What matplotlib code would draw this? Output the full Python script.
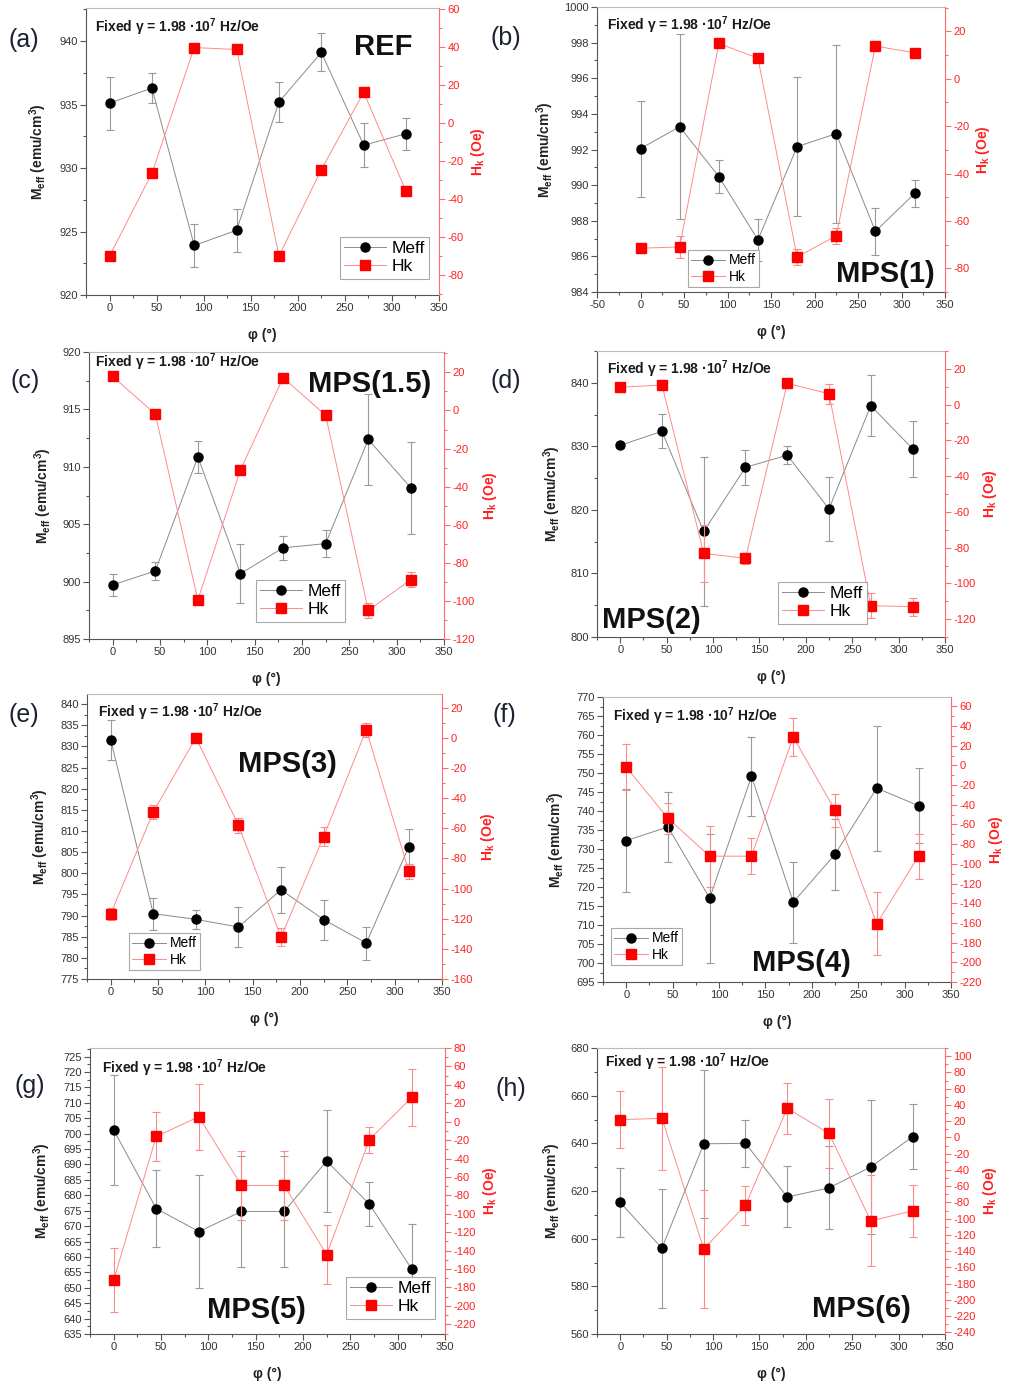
import numpy as np
import matplotlib
matplotlib.use("Agg")
import matplotlib.pyplot as plt
from matplotlib.ticker import MultipleLocator, AutoMinorLocator

plt.rcParams['font.family'] = ['Liberation Sans', 'DejaVu Sans']
plt.rcParams['mathtext.fontset'] = 'custom'
plt.rcParams['mathtext.rm'] = 'Liberation Sans:bold'
plt.rcParams['mathtext.it'] = 'Liberation Sans:italic:bold'
plt.rcParams['mathtext.bf'] = 'Liberation Sans:bold'
plt.rcParams['axes.unicode_minus'] = False

# angle phi (deg), same for every sample
phi = [0, 45, 90, 135, 180, 225, 270, 315]

# (a) REF
meff_a = [935.1, 936.3, 923.9, 925.1, 935.2, 939.1, 931.8, 932.7]
meff_err_a = [2.1, 1.2, 1.7, 1.7, 1.6, 1.5, 1.75, 1.25]
hk_a = [-70, -26.5, 39.6, 38.6, -70, -24.6, 16.1, -36]
hk_err_a = None

# (b) MPS(1)
meff_b = [992.05, 993.28, 990.48, 986.93, 992.16, 992.89, 987.4, 989.53]
meff_err_b = [2.7, 5.2, 0.95, 1.18, 3.9, 5.0, 1.3, 0.76]
hk_b = [-71.5, -71, 14.9, 8.7, -75.2, -66.3, 13.8, 11]
hk_err_b = [1.5, 4.5, 0.5, 1, 3.4, 3.5, 0.5, 1]

# (c) MPS(1.5)
meff_c = [899.71, 900.93, 910.87, 900.7, 902.94, 903.31, 912.38, 908.17]
meff_err_c = [0.96, 0.8, 1.4, 2.6, 1.05, 1.2, 4.0, 4.0]
hk_c = [17.9, -1.9, -99.5, -31.2, 17.2, -2.5, -105, -88.8]
hk_err_c = [1, 1, 1.5, 1, 1, 1, 4, 4]

# (d) MPS(2)
meff_d = [830.16, 832.36, 816.6, 826.7, 828.6, 820.16, 836.4, 829.63]
meff_err_d = [0.5, 2.7, 11.7, 2.8, 1.45, 5.05, 4.8, 4.4]
hk_d = [9.7, 11, -83.2, -86, 11.9, 6.1, -112.5, -113]
hk_err_d = [1, 1, 16, 3, 1, 5.6, 7, 5]

# (e) MPS(3)
meff_e = [831.6, 790.46, 789.1, 787.3, 796.1, 789.04, 783.5, 806.3]
meff_err_e = [4.7, 3.8, 2.2, 4.7, 5.5, 4.7, 3.9, 4.2]
hk_e = [-116.8, -49.3, 0, -57.9, -132.2, -65.5, 5.3, -88.7]
hk_err_e = [4, 4.7, 3, 5, 5.7, 6, 4.6, 5]

# (f) MPS(4)
meff_f = [732.2, 735.8, 717.05, 749.1, 716.0, 728.6, 746.0, 741.4]
meff_err_f = [13.6, 9.2, 17, 10.5, 10.7, 9.3, 16.5, 9.8]
hk_f = [-1.7, -53.7, -92.2, -92.2, 29, -45.6, -160.8, -92.2]
hk_err_f = [23, 16, 31, 18, 19, 16.5, 32, 22.8]

# (g) MPS(5)
meff_g = [701.2, 675.7, 668.25, 674.75, 674.75, 691.1, 677.2, 656.0]
meff_err_g = [18, 12.5, 18.2, 18, 18, 16.6, 7, 14.8]
hk_g = [-172, -16, 5.4, -69.2, -69.2, -144.2, -19.6, 26.4]
hk_err_g = [35, 27, 36, 37, 37, 31.5, 14, 30.6]

# (h) MPS(6)
meff_h = [615.2, 596, 639.8, 640, 617.5, 621.3, 630.1, 642.75]
meff_err_h = [14.3, 25, 31, 10, 12.8, 17.4, 28.2, 13.7]
hk_h = [21.8, 23.4, -137.3, -83.5, 35.8, 4.9, -102.8, -90.5]
hk_err_h = [35, 63, 73, 24, 31.5, 42, 56, 31.7]

W, H = 1021, 1387
fig = plt.figure(figsize=(W / 100, H / 100), dpi=100)


def fx(x):
    return x / W


def fy(y):
    return 1 - y / H


# layout in figure pixels: box = (left, top, right, bottom)
panels = [
    dict(tag='(a)', tagpos=(8, 47), name='REF', namepos=(354, 55),
         meff=meff_a, meff_err=meff_err_a, hk=hk_a, hk_err=hk_err_a,
         box=(86, 8, 439, 295), xlim=(-25, 350), ylim=(920, 942.6), ystep=5,
         ylim2=(-90.5, 60.4), fixpos=(95, 32), ylx=38, y2lx=478,
         leg=(340, 237), legfs=12.5),
    dict(tag='(b)', tagpos=(490, 45), name='MPS(1)', namepos=(836, 282),
         meff=meff_b, meff_err=meff_err_b, hk=hk_b, hk_err=hk_err_b,
         box=(597, 7, 945, 292), xlim=(-50, 350), ylim=(984, 1000), ystep=2,
         ylim2=(-90, 30.3), fixpos=(607, 30), ylx=545, y2lx=983,
         leg=(688, 250), legfs=10),
    dict(tag='(c)', tagpos=(10, 388), name='MPS(1.5)', namepos=(308, 392),
         meff=meff_c, meff_err=meff_err_c, hk=hk_c, hk_err=hk_err_c,
         box=(89, 352, 444, 639), xlim=(-25, 350), ylim=(895, 920), ystep=5,
         ylim2=(-120, 30.7), fixpos=(95, 367), ylx=43, y2lx=490,
         leg=(256, 580), legfs=12.5),
    dict(tag='(d)', tagpos=(490, 388), name='MPS(2)', namepos=(602, 628),
         meff=meff_d, meff_err=meff_err_d, hk=hk_d, hk_err=hk_err_d,
         box=(597, 351, 945, 637), xlim=(-25, 350), ylim=(800, 845), ystep=10,
         ylim2=(-130, 30), fixpos=(607, 374), ylx=552, y2lx=990,
         leg=(778, 582), legfs=12.5),
    dict(tag='(e)', tagpos=(8, 722), name='MPS(3)', namepos=(238, 772),
         meff=meff_e, meff_err=meff_err_e, hk=hk_e, hk_err=hk_err_e,
         box=(87, 694, 442, 979), xlim=(-25, 350), ylim=(775, 842.4), ystep=5,
         ylim2=(-160, 29), fixpos=(98, 717), ylx=40, y2lx=488,
         leg=(129, 933), legfs=10),
    dict(tag='(f)', tagpos=(492, 722), name='MPS(4)', namepos=(752, 971),
         meff=meff_f, meff_err=meff_err_f, hk=hk_f, hk_err=hk_err_f,
         box=(603, 697, 951, 982), xlim=(-25, 350), ylim=(695, 770), ystep=5,
         ylim2=(-220, 69.5), fixpos=(613, 721), ylx=556, y2lx=996,
         leg=(611, 928), legfs=10),
    dict(tag='(g)', tagpos=(15, 1093), name='MPS(5)', namepos=(207, 1318),
         meff=meff_g, meff_err=meff_err_g, hk=hk_g, hk_err=hk_err_g,
         box=(90, 1048, 445, 1334), xlim=(-25, 350), ylim=(635, 727.8), ystep=5,
         ylim2=(-230.5, 80), fixpos=(102, 1073), ylx=42, y2lx=490,
         leg=(346, 1277), legfs=12.5),
    dict(tag='(h)', tagpos=(495, 1096), name='MPS(6)', namepos=(812, 1317),
         meff=meff_h, meff_err=meff_err_h, hk=hk_h, hk_err=hk_err_h,
         box=(597, 1048, 945, 1334), xlim=(-25, 350), ylim=(560, 680), ystep=20,
         ylim2=(-242, 110), fixpos=(605, 1067), ylx=552, y2lx=990,
         leg=None, legfs=12.5),
]

BLK = '#555555'
RED = '#ff2020'
RED_L = '#ff8a8a'
GRY_L = '#9a9a9a'

for p in panels:
    L, T, R, B = p['box']
    ax = fig.add_axes([fx(L), fy(B), (R - L) / W, (B - T) / H])
    ax2 = ax.twinx()

    ax.errorbar(phi, p['meff'], yerr=p['meff_err'], fmt='none', ecolor=GRY_L,
                elinewidth=0.8, capsize=3, capthick=0.8, zorder=2)
    l1, = ax.plot(phi, p['meff'], '-', color='#8a8a8a', lw=0.7, marker='o',
                  ms=6.5, mfc='k', mec='k', zorder=3)
    if p['hk_err'] is not None:
        ax2.errorbar(phi, p['hk'], yerr=p['hk_err'], fmt='none', ecolor=RED_L,
                     elinewidth=0.8, capsize=3, capthick=0.8, zorder=2)
    l2, = ax2.plot(phi, p['hk'], '-', color=RED_L, lw=0.7, marker='s',
                   ms=6.5, mfc='#ff0000', mec='#ff0000', zorder=3)

    ax.set_xlim(*p['xlim'])
    ax.set_ylim(*p['ylim'])
    ax2.set_ylim(*p['ylim2'])
    ax.xaxis.set_major_locator(MultipleLocator(50))
    ax.xaxis.set_minor_locator(AutoMinorLocator(2))
    ax.yaxis.set_major_locator(MultipleLocator(p['ystep']))
    ax.yaxis.set_minor_locator(AutoMinorLocator(2))
    ax2.yaxis.set_major_locator(MultipleLocator(20))
    ax2.yaxis.set_minor_locator(AutoMinorLocator(2))

    ax.tick_params(which='both', direction='out', color=BLK, width=0.8,
                   labelsize=8, labelcolor='#333333', pad=2)
    ax.tick_params(which='major', length=4)
    ax.tick_params(which='minor', length=2)
    ax2.tick_params(which='both', direction='out', color='#ff6a6a', width=0.8,
                    labelsize=8, labelcolor=RED, pad=2)
    ax2.tick_params(which='major', length=4)
    ax2.tick_params(which='minor', length=2)

    ax.spines['right'].set_visible(False)
    ax.spines['left'].set_color(BLK)
    ax.spines['bottom'].set_color(BLK)
    ax.spines['top'].set_color('#bbbbbb')
    for s in ('left', 'top', 'bottom'):
        ax2.spines[s].set_visible(False)
    ax2.spines['right'].set_color('#ff6a6a')
    for s in ax.spines.values():
        s.set_linewidth(0.8)
    ax2.spines['right'].set_linewidth(0.8)

    cy = fy((T + B) / 2)
    ax.set_ylabel(r'M$_{\mathrm{eff}}$ (emu/cm$^{3}$)', fontsize=10,
                  fontweight='bold', color='#222222')
    ax.yaxis.set_label_coords(fx(p['ylx']), cy, transform=fig.transFigure)
    ax.yaxis.label.set_va('center')
    ax2.set_ylabel(r'H$_{\mathrm{k}}$ (Oe)', fontsize=10, fontweight='bold',
                   color=RED, rotation=90)
    ax2.yaxis.set_label_coords(fx(p['y2lx']), cy, transform=fig.transFigure)
    ax2.yaxis.label.set_va('center')
    ax.set_xlabel('φ (°)', fontsize=10, fontweight='bold', color='#222222')
    ax.xaxis.set_label_coords(fx((L + R) / 2), fy(B + 40), transform=fig.transFigure)
    ax.xaxis.label.set_va('center')

    fig.text(fx(p['fixpos'][0]), fy(p['fixpos'][1]),
             r'Fixed γ = 1.98 ·10$^{7}$ Hz/Oe', fontsize=10,
             fontweight='bold', color='#1a1a1a', ha='left', va='baseline')
    fig.text(fx(p['namepos'][0]), fy(p['namepos'][1]), p['name'],
             fontsize=21, fontweight='bold', color='#111111',
             ha='left', va='baseline')
    fig.text(fx(p['tagpos'][0]), fy(p['tagpos'][1]), p['tag'],
             fontsize=18, color='#1c2232', ha='left', va='baseline')

    if p['leg'] is not None:
        lg = ax2.legend([l1, l2], ['Meff', 'Hk'], loc='upper left',
                        bbox_to_anchor=(fx(p['leg'][0]), fy(p['leg'][1])),
                        bbox_transform=fig.transFigure, fontsize=p['legfs'],
                        frameon=True, fancybox=False, edgecolor='#a8a8a8',
                        framealpha=1, borderpad=0.25, labelspacing=0.15,
                        handlelength=2.4, handletextpad=0.3, borderaxespad=0)
        lg.get_frame().set_linewidth(0.8)

fig.savefig('out.png', dpi=100, facecolor='white')
